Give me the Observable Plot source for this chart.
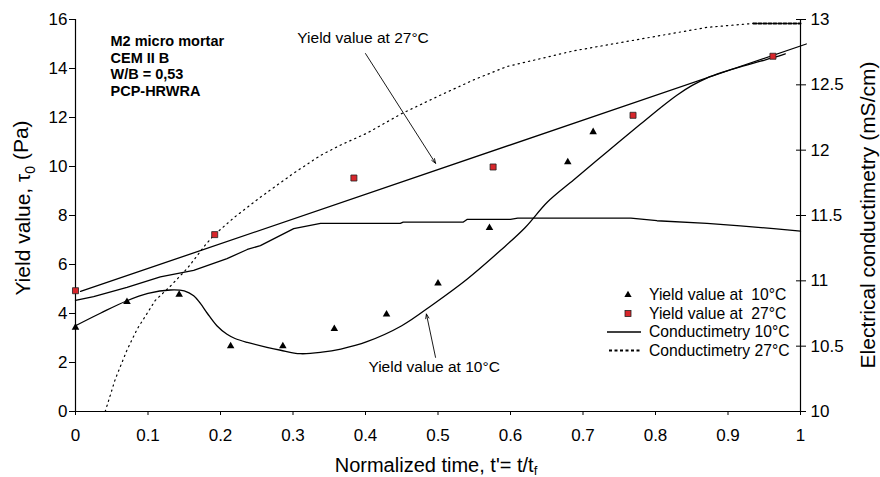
<!DOCTYPE html>
<html><head><meta charset="utf-8">
<script src="https://cdn.jsdelivr.net/npm/d3@7"></script>
<script src="https://cdn.jsdelivr.net/npm/@observablehq/plot@0.6"></script>
<style>
html,body{margin:0;padding:0;background:#fff;}
#chart{width:880px;height:477px;position:relative;}
</style></head><body><div id="chart"></div>
<script>
const FONT = '"Liberation Sans", Arial, Helvetica, sans-serif';

// ---- data ----
const yield10T = [0, 0.071, 0.143, 0.214, 0.286, 0.357, 0.429, 0.5, 0.571, 0.679, 0.714];
const yield10V = [3.43, 4.48, 4.77, 2.67, 2.67, 3.37, 3.97, 5.23, 7.5, 10.18, 11.41];
const yield27T = [0, 0.192, 0.384, 0.576, 0.769, 0.962];
const yield27V = [4.93, 7.22, 9.53, 9.98, 12.09, 14.5];

const fit27T = [0.007, 1.008];
const fit27V = [4.9, 15.0];

const fit10T = [0, 0.035, 0.071, 0.10, 0.131, 0.150, 0.163, 0.172, 0.182, 0.195, 0.209, 0.22, 0.237, 0.264, 0.283, 0.31, 0.34, 0.366, 0.402, 0.45, 0.494, 0.54, 0.586, 0.62, 0.651, 0.687, 0.733, 0.779, 0.807, 0.83, 0.85, 0.87, 0.894, 0.917, 0.945, 0.963, 0.979];
const fit10V = [3.5, 4.02, 4.52, 4.82, 4.96, 4.92, 4.72, 4.42, 4.0, 3.5, 3.15, 2.98, 2.82, 2.62, 2.5, 2.36, 2.42, 2.55, 2.85, 3.5, 4.39, 5.4, 6.57, 7.5, 8.55, 9.45, 10.59, 11.72, 12.4, 12.92, 13.3, 13.6, 13.86, 14.07, 14.3, 14.45, 14.6];

const cond10T = [0, 0.025, 0.071, 0.117, 0.163, 0.209, 0.237, 0.255, 0.301, 0.338, 0.448, 0.452, 0.535, 0.54, 0.6, 0.61, 0.766, 0.802, 0.871, 0.917, 0.963, 1.0];
const cond10V = [10.85, 10.88, 10.95, 11.03, 11.08, 11.17, 11.24, 11.27, 11.40, 11.44, 11.44, 11.45, 11.45, 11.47, 11.47, 11.48, 11.48, 11.46, 11.44, 11.42, 11.40, 11.38];

const cond27T = [0.041, 0.055, 0.071, 0.085, 0.11, 0.131, 0.155, 0.177, 0.191, 0.22, 0.255, 0.30, 0.338, 0.366, 0.402, 0.45, 0.503, 0.55, 0.595, 0.687, 0.779, 0.871, 0.935, 1.0];
const cond27V = [10.0, 10.25, 10.47, 10.63, 10.85, 10.96, 11.10, 11.26, 11.35, 11.49, 11.64, 11.82, 11.96, 12.04, 12.13, 12.28, 12.42, 12.54, 12.64, 12.76, 12.85, 12.94, 12.97, 12.97];

const xTicks = [0, 0.1, 0.2, 0.3, 0.4, 0.5, 0.6, 0.7, 0.8, 0.9, 1];
const yTicks = [0, 2, 4, 6, 8, 10, 12, 14, 16];
const y2Ticks = [10, 10.5, 11, 11.5, 12, 12.5, 13];
const xDomain = [0, 1];
const yDomain = [0, 16];
const y2Domain = [10, 13];

const infoLines = ["M2 micro mortar", "CEM II B", "W/B = 0,53", "PCP-HRWRA"];
const annotLabels = ["Yield value at 27°C", "Yield value at 10°C"];
const annotX = [0.306, 0.404];
const annotY = [15.24, 1.80];
const arrowFrom = [[0.400, 14.61], [0.4966, 2.21]];
const arrowTo = [[0.4966, 10.13], [0.484, 3.98]];
const legendLabels = ["Yield value at  10°C", "Yield value at  27°C", "Conductimetry 10°C", "Conductimetry 27°C"];

// ---- derived tables ----
const toLeft = d3.scaleLinear().domain(y2Domain).range(yDomain);
const zip = (xs, ys) => xs.map((x, i) => ({x, y: ys[i]}));
const y10 = zip(yield10T, yield10V);
const y27 = zip(yield27T, yield27V);
const f27 = zip(fit27T, fit27V);
const f10 = zip(fit10T, fit10V);
const c10 = zip(cond10T, cond10V);
const c27 = zip(cond27T, cond27V);
const annots = annotLabels.map((t, i) => ({t, x: annotX[i], y: annotY[i]}));
const arrows = arrowFrom.map((a, i) => ({x1: a[0], y1: a[1], x2: arrowTo[i][0], y2: arrowTo[i][1]}));

const plot = Plot.plot({
  width: 880, height: 477,
  marginLeft: 75, marginRight: 80, marginTop: 19, marginBottom: 66,
  x: {domain: xDomain},
  y: {domain: yDomain},
  style: {fontFamily: FONT, background: "white", color: "black", overflow: "visible"},
  marks: [
    Plot.axisY(yTicks, {anchor: "left", tickSize: 6, tickPadding: 2, fontSize: 17, label: null}),
    Plot.axisY(y2Ticks.map(toLeft), {anchor: "right", tickSize: 10, dx: -5, tickPadding: 5, fontSize: 17, label: null,
      tickFormat: d => String(Math.round(toLeft.invert(d) * 10) / 10)}),
    Plot.axisX(xTicks, {anchor: "bottom", tickSize: 4, tickPadding: 13, fontSize: 17, label: null, tickFormat: d => String(d)}),
    Plot.ruleX([0, 1], {strokeWidth: 1.2}),
    Plot.ruleY([0], {strokeWidth: 1.2}),
    Plot.line(c27.filter(d => d.x <= 0.935), {x: "x", y: d => toLeft(d.y), stroke: "black", strokeWidth: 1.2, strokeDasharray: "1.3,4"}),
    Plot.line(c27.filter(d => d.x >= 0.935), {x: "x", y: d => toLeft(d.y), stroke: "black", strokeWidth: 2, strokeDasharray: "3,2"}),
    Plot.line(c10, {x: "x", y: d => toLeft(d.y), stroke: "black", strokeWidth: 1.3}),
    Plot.line(f27, {x: "x", y: "y", stroke: "black", strokeWidth: 1.3}),
    Plot.line(f10, {x: "x", y: "y", stroke: "black", strokeWidth: 1.3, curve: "catmull-rom"}),
    Plot.dot(y10, {x: "x", y: "y", symbol: "triangle", r: 2.8, fill: "black"}),
    Plot.dot(y27, {x: "x", y: "y", symbol: "square", r: 3.4, fill: "#d8262b", stroke: "#222", strokeWidth: 0.8}),
    Plot.text([infoLines.join("\n")], {frameAnchor: "top-left", dx: 35, dy: 14, lineAnchor: "top", textAnchor: "start",
      fontWeight: "bold", fontSize: 14.5, lineHeight: 1.17}),
    Plot.text(annots, {x: "x", y: "y", text: "t", textAnchor: "start", fontSize: 15.5}),
    Plot.arrow(arrows, {x1: "x1", y1: "y1", x2: "x2", y2: "y2", stroke: "black", strokeWidth: 0.9, headLength: 8, headAngle: 40})
  ]
});

document.getElementById("chart").appendChild(plot);
const svg = d3.select(plot);

// axis titles
const t1 = svg.append("text").attr("transform", "translate(30,208) rotate(-90)")
  .attr("text-anchor", "middle").style("font-size", "21px").attr("fill", "black");
t1.append("tspan").text("Yield value, τ");
t1.append("tspan").style("font-size", "14px").attr("dy", "0.35em").text("0");
t1.append("tspan").attr("dy", "-0.35em").text(" (Pa)");

svg.append("text").attr("transform", "translate(875,215) rotate(-90)")
  .attr("text-anchor", "middle").style("font-size", "21px").attr("fill", "black")
  .text("Electrical conductimetry (mS/cm)");

const t3 = svg.append("text").attr("x", 436).attr("y", 472)
  .attr("text-anchor", "middle").style("font-size", "20px").attr("fill", "black");
t3.append("tspan").text("Normalized time, t'= t/t");
t3.append("tspan").style("font-size", "13px").attr("dy", "0.25em").text("f");

// legend
const lg = svg.append("g").attr("fill", "black");
const rowsY = [295, 313.5, 332, 350.5];
legendLabels.forEach((lab, i) => {
  lg.append("text").attr("x", 649).attr("y", rowsY[i]).attr("dy", "0.35em")
    .attr("text-anchor", "start")
    .style("font-size", "15.7px").style("white-space", "pre").text(lab);
});
lg.append("path").attr("transform", `translate(628,${rowsY[0]})`)
  .attr("d", d3.symbol(d3.symbolTriangle, 2.7 * 2.7 * Math.PI)()).attr("fill", "black");
lg.append("rect").attr("x", 625).attr("y", rowsY[1] - 3).attr("width", 6).attr("height", 6)
  .attr("fill", "#d8262b").attr("stroke", "#222").attr("stroke-width", 0.8);
lg.append("line").attr("x1", 607).attr("x2", 641).attr("y1", rowsY[2]).attr("y2", rowsY[2])
  .attr("stroke", "black").attr("stroke-width", 1.3);
lg.append("line").attr("x1", 609).attr("x2", 641).attr("y1", rowsY[3]).attr("y2", rowsY[3])
  .attr("stroke", "black").attr("stroke-width", 1.8).attr("stroke-dasharray", "3,2.5");
</script></body></html>
